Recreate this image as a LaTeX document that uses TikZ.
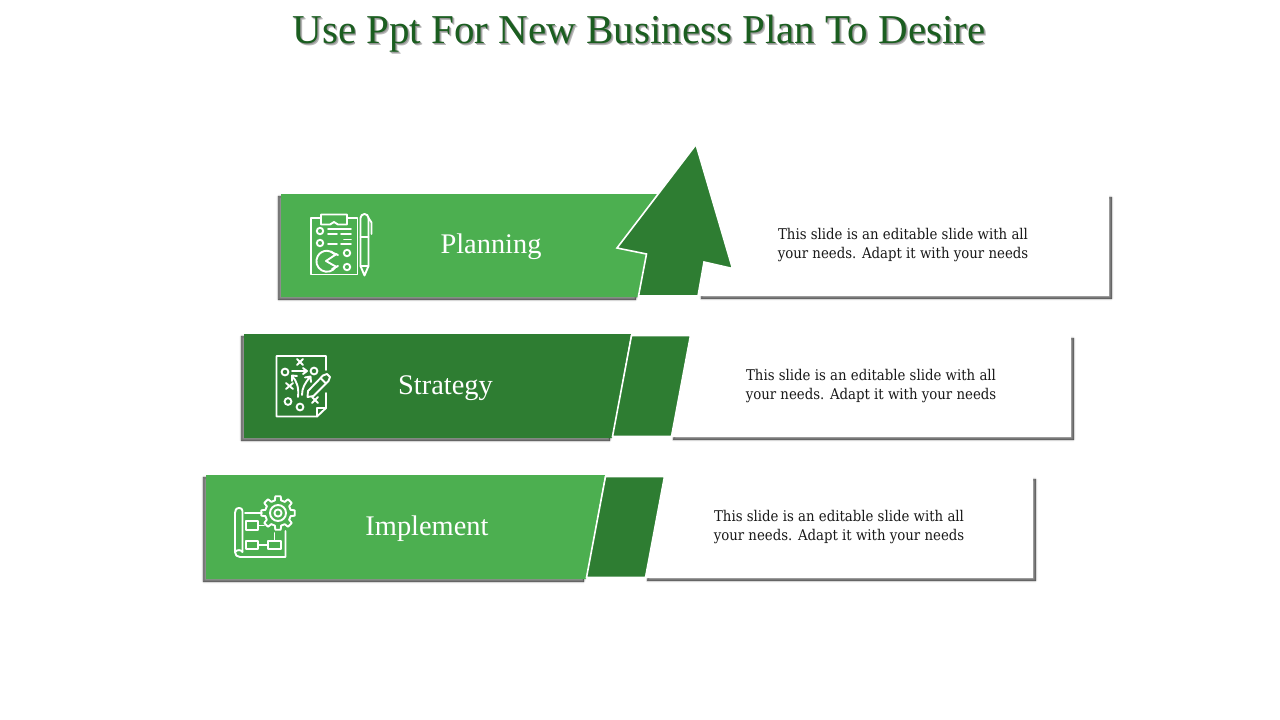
\documentclass[tikz,border=0pt]{standalone}
\usepackage{fontspec}
\setmainfont{Liberation Serif}
\newfontfamily\bodyfont{DejaVu Serif Condensed}
\definecolor{lightgreen}{HTML}{4CAF50}
\definecolor{darkgreen}{HTML}{2E7D32}
\definecolor{titlegreen}{HTML}{1B5E20}
\newcommand\softshadow[2]{%
  \foreach \w/\o in {3.6/.07,2.4/.1,1.2/.14,0/.2}{%
    \path[fill=black,draw=black,line width=\w pt,line join=round,fill opacity=\o,draw opacity=\o,shift={(#1)}] #2;}}
\newcommand\titleglow[1]{\rlap{\color{black!28}\kern1.9pt\raisebox{-1.9pt}{#1}}\rlap{\color{black!42}\kern1pt\raisebox{-1pt}{#1}}#1}
\tikzset{
  x=1pt,y=-1pt,
  band/.style={fill=#1,draw=none},
  tab/.style={fill=darkgreen,draw=white,line width=1.6pt,line join=miter},
  panel/.style={fill=white,draw=none},
  icon/.style={draw=white,line width=1.9pt,line cap=round,line join=round,fill=none},
  heading/.style={text=white,font=\fontsize{28.4}{31}\selectfont,inner sep=0pt,anchor=center},
  blurb/.style={text=black!90,font=\bodyfont\fontsize{14.8}{19}\selectfont,align=center,inner sep=0pt,anchor=center},
}
\begin{document}
\begin{tikzpicture}
\useasboundingbox (0,0) rectangle (1280,720);
\fill[white] (0,0) rectangle (1280,720);
\node[text=titlegreen,font=\fontsize{41}{45}\selectfont,inner sep=0pt] (title) at (639,35) {\titleglow{Use Ppt For New Business Plan To Desire}};

% row 1
\softshadow{2.5,2.5}{(700,195)--(1109,195)--(1109,296)--(699,296)--cycle}
\path[panel] (700,195)--(1109,195)--(1109,296)--(699,296)--cycle;
\softshadow{-2.5,2.5}{(281,194)--(657,194)--(617,248)--(647,254)--(638,297)--(281,297)--cycle}
\path[band=lightgreen] (281,194)--(657,194)--(617,248)--(647,254)--(638,297)--(281,297)--cycle;
\path[tab] (696,144.5)--(732.5,268.5)--(704,262)--(698,296)--(638.5,296)--(646.5,254)--(617,248)--cycle;
\node[heading] (planning) at (491,247) {Planning};
\node[blurb] (text1) at (903,245) {This slide is an editable slide with all\\your needs. Adapt it with your needs};

% row 2
\softshadow{2.5,2.5}{(690,336)--(1071,336)--(1071,437)--(671,437)--cycle}
\path[panel] (690,336)--(1071,336)--(1071,437)--(671,437)--cycle;
\softshadow{-2.5,2.5}{(244,334)--(631,334)--(612,438)--(244,438)--cycle}
\path[band=darkgreen] (244,334)--(631,334)--(612,438)--(244,438)--cycle;
\path[tab] (631.5,335.5)--(690.5,335.5)--(671.5,436.5)--(612.5,436.5)--cycle;
\node[heading] (strategy) at (445.5,388) {Strategy};
\node[blurb] (text2) at (871,386) {This slide is an editable slide with all\\your needs. Adapt it with your needs};

% row 3
\softshadow{2.5,2.5}{(664,477)--(1033,477)--(1033,578)--(645,578)--cycle}
\path[panel] (664,477)--(1033,477)--(1033,578)--(645,578)--cycle;
\softshadow{-2.5,2.5}{(206,475)--(605,475)--(586,579)--(206,579)--cycle}
\path[band=lightgreen] (206,475)--(605,475)--(586,579)--(206,579)--cycle;
\path[tab] (605.5,476.5)--(664.5,476.5)--(645.5,577.5)--(586.5,577.5)--cycle;
\node[heading] (implement) at (427,529) {Implement};
\node[blurb] (text3) at (839,527) {This slide is an editable slide with all\\your needs. Adapt it with your needs};

% icon: clipboard and pen
\begin{scope}[icon]
\draw (321,218)--(311,218)--(311,274.5)--(357.5,274.5)--(357.5,218)--(347,218);
\draw (321,214.5)--(347,214.5)--(347,224.5)--(338,224.5)--(334,222)--(330,224.5)--(321,224.5)--cycle;
\draw (320,231) circle (3.2) (320,243) circle (3.2) (347,253) circle (3.2) (347,267) circle (3.2);
\draw (328,229)--(351,229) (328,234)--(337,234) (341,234)--(351,234) (328,244)--(337,244) (341,244)--(351,244) (344,239.5)--(351,239.5);
\draw (336,266.5) arc (30:320:10.5);
\draw (336.5,254)--(326,261)--(336.5,267);
\draw (331,252)--(338,255) (332,269)--(338,266);
\draw (360.5,218) arc (180:360:4) -- (368.5,266)--(364.5,275.5)--(360.5,266)--cycle;
\draw (360.5,237)--(368.5,237) (360.5,266)--(368.5,266);
\draw (368.5,218)--(371.5,222.5)--(371.5,234);
\end{scope}

% icon: strategy sheet
\begin{scope}[icon]
\draw (326,370)--(326,356)--(276.5,356)--(276.5,416.5)--(317,416.5)--(326,408)--(326,393);
\draw (317,416.5)--(317,408)--(326,408);
\draw (285,372) circle (3.4) (314,371) circle (3.4) (288,401.5) circle (3.4) (300,407) circle (3.4);
\draw (297,359)--(303,365) (303,359)--(297,365);
\draw (286,383)--(293,389) (293,383)--(286,389);
\draw (312,397)--(318,403) (318,397)--(312,403);
\draw (292,371)--(306,371) (303,368)--(307,371)--(303,374);
\draw (298,397) .. controls (299,388) and (297,381) .. (292,376) (292,381)--(292,375.5)--(297,376);
\draw (302,395) .. controls (302,388) and (305,383) .. (310,377) (305,377.5)--(310.5,376.5)--(311,382);
\draw (308,391)--(323,375.5)--(327,374)--(330,377)--(328.5,381)--(313.5,396)--(307.5,397)--cycle;
\draw (320.5,378)--(326,383.5);
\end{scope}

% icon: blueprint and gear
\begin{scope}[icon]
\draw (245,513)--(262,513);
\draw (242.5,552)--(242.5,511) .. controls (242.5,509) and (241,508) .. (239.5,508) .. controls (236,508) and (235,510) .. (235,513)--(235,552) .. controls (235,555) and (237,557) .. (240,557)--(285.5,557)--(285.5,531);
\draw (242.5,552) .. controls (241,549.5) and (237,549.5) .. (235,552);
\draw (246,521) rectangle (258,530) (258,525.5)--(264,525.5);
\draw (246,541) rectangle (258,549) (258,545)--(268,545) (268,541) rectangle (281,549) (274.5,541)--(274.5,533);
\draw (278,513) circle (8) (278,513) circle (3.6);
\begin{scope}[shift={(278,513)}]
\foreach \a in {0,45,...,315}{
  \draw[rotate=\a] (-14:13)--(-9:17)--(9:17)--(14:13) arc (14:31:13);
}
\end{scope}
\end{scope}
\end{tikzpicture}
\end{document}
